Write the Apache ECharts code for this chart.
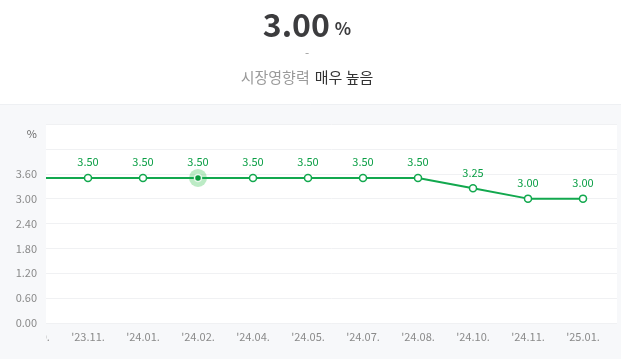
<!DOCTYPE html>
<html><head><meta charset="utf-8">
<script src="https://cdn.jsdelivr.net/npm/echarts@6/dist/echarts.min.js"></script>
<style>html,body{margin:0;padding:0;background:#f7f8fa}#c{width:621px;height:359px}</style>
</head><body><div id="c"></div>
<script>
const categories = ["'23.10.", "'23.11.", "'24.01.", "'24.02.", "'24.04.", "'24.05.", "'24.07.", "'24.08.", "'24.10.", "'24.11.", "'25.01."];
const rates = [3.50, 3.50, 3.50, 3.50, 3.50, 3.50, 3.50, 3.50, 3.25, 3.00, 3.00];
const highlightIndex = 3;
const yMin = 0, yMax = 4.8, yStep = 0.6, yLabelMax = 3.6;
const headline = '3.00';
const headlineUnit = '%';
const subLabel = '시장영향력';
const subValue = '매우 높음';

const font = '"Noto Sans CJK KR", "Noto Sans", sans-serif';
const green = '#12a84e';

const seriesData = rates.map((v, i) => i === highlightIndex ? {
  value: v,
  symbolSize: 7,
  itemStyle: { color: '#0a9a3c', borderColor: '#e8f7ec', borderWidth: 1.5 }
} : v);
const haloData = rates.map((v, i) => i === highlightIndex ? v : null);

const chart = echarts.init(document.getElementById('c'), null, { renderer: 'canvas' });
chart.setOption({
  backgroundColor: '#f7f8fa',
  animation: false,
  title: [{
    text: '{a|' + headline + '} {b|' + headlineUnit + '}',
    left: 302, top: 4, textAlign: 'center',
    textStyle: { rich: {
      a: { fontFamily: font, fontSize: 32, fontWeight: 'bold', color: '#3c3c3e' },
      b: { fontFamily: font, fontSize: 17, color: '#3c3c3e', padding: [8, 0, 0, 0] }
    } }
  }, {
    text: '-', left: 302, top: 41, textAlign: 'center',
    textStyle: { fontFamily: font, fontSize: 12, color: '#9a9a9a', fontWeight: 'normal' }
  }, {
    text: '{g|' + subLabel + '} {d|' + subValue + '}',
    left: 302, top: 63, textAlign: 'center',
    textStyle: { rich: {
      g: { fontFamily: font, fontSize: 15, color: '#9a9a9a', fontWeight: 'normal' },
      d: { fontFamily: font, fontSize: 15, color: '#333333', fontWeight: 'normal' }
    } }
  }],
  graphic: [
    { type: 'rect', shape: { x: 0, y: 0, width: 621, height: 104 }, style: { fill: '#ffffff' }, z: -10 },
    { type: 'line', shape: { x1: 0, y1: 104.5, x2: 621, y2: 104.5 }, style: { stroke: '#eef0f3', lineWidth: 1 }, z: -9 },
    { type: 'rect', shape: { x: 0, y: 106, width: 46, height: 253 }, style: { fill: '#f7f8fa' }, z: 50 }
  ],
  grid: [
    { left: 5.5, top: 124, width: 605, height: 199 },
    { left: 46, top: 124, width: 571, height: 199, show: true, backgroundColor: '#ffffff', borderWidth: 0 }
  ],
  xAxis: [{
    gridIndex: 0, type: 'category', boundaryGap: true, data: categories,
    axisLine: { show: false }, axisTick: { show: false }, splitLine: { show: false },
    axisLabel: { color: '#8a8a8a', fontSize: 11, fontFamily: font, margin: 8 }
  }, {
    gridIndex: 1, type: 'value', show: false, min: 0, max: 1
  }],
  yAxis: [{
    gridIndex: 0, type: 'value', position: 'left', min: yMin, max: yMax, interval: yStep, show: false
  }, {
    gridIndex: 1, type: 'value', position: 'left', offset: 0, min: yMin, max: yMax, interval: yStep,
    axisLine: { show: false }, axisTick: { show: false }, axisLabel: { show: false },
    splitLine: { lineStyle: { color: '#f0f1f3', width: 1 } }
  }, {
    gridIndex: 1, type: 'value', position: 'left', offset: 0, min: yMin, max: yMax, interval: yStep, z: 100,
    axisLine: { show: false }, axisTick: { show: false }, splitLine: { show: false },
    name: '%', nameLocation: 'end', nameGap: -15,
    nameTextStyle: { color: '#666', fontSize: 11, fontFamily: font, align: 'right', padding: [0, 9, 0, 0] },
    axisLabel: {
      color: '#8a8a8a', fontSize: 11, fontFamily: font, margin: 9,
      formatter: v => v > yLabelMax + 1e-9 ? '' : v.toFixed(2)
    }
  }],
  series: [{
    type: 'scatter', xAxisIndex: 0, yAxisIndex: 0, data: haloData, z: 1,
    symbol: 'circle', symbolSize: 18, itemStyle: { color: 'rgba(70,200,95,0.45)' }, silent: true
  }, {
    type: 'line', xAxisIndex: 0, yAxisIndex: 0, data: seriesData, z: 3,
    symbol: 'circle', symbolSize: 7, showAllSymbol: true,
    lineStyle: { color: green, width: 2 },
    itemStyle: { color: '#ffffff', borderColor: green, borderWidth: 1.5 },
    label: { show: true, position: 'top', distance: 6, color: '#0a9e45', fontSize: 11, fontFamily: font,
      formatter: p => Number(p.value).toFixed(2) }
  }]
});
</script></body></html>
